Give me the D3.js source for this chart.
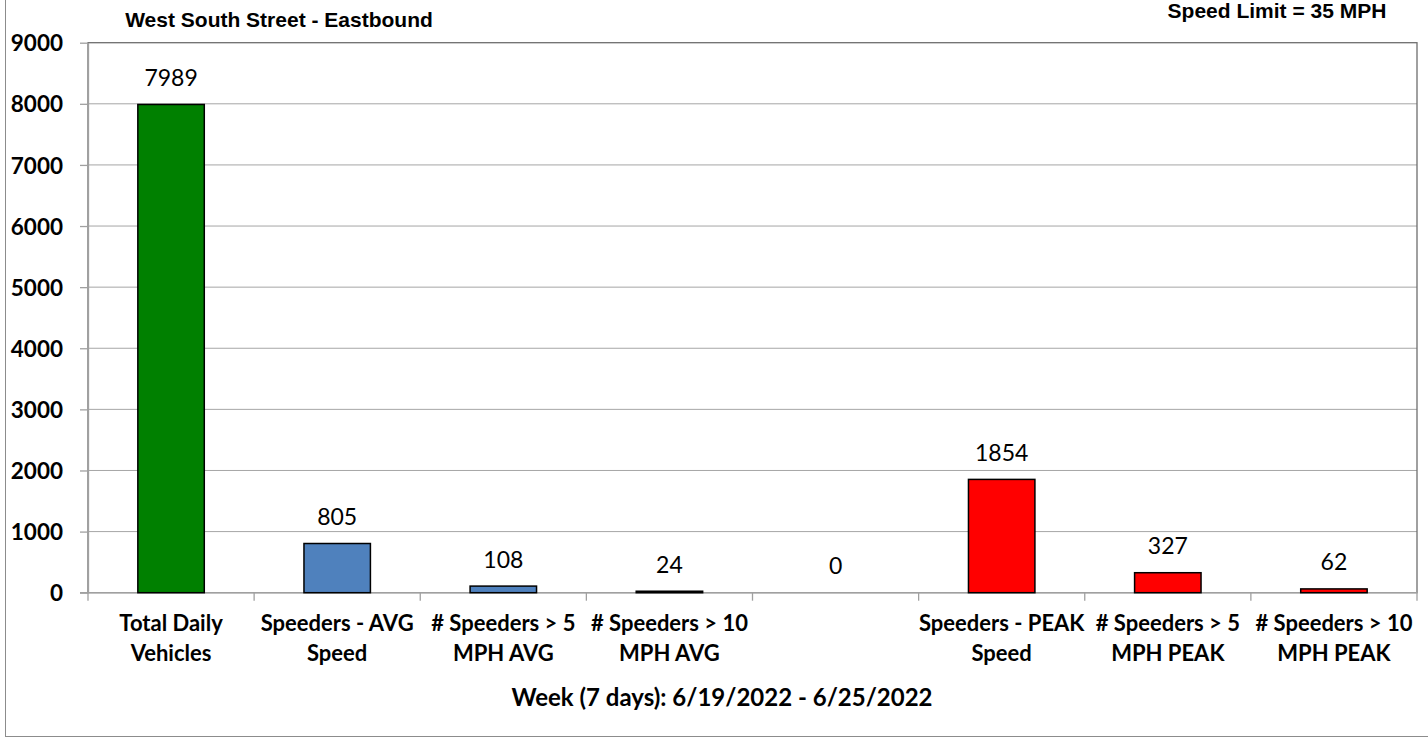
<!DOCTYPE html>
<html>
<head>
    <title>West South Street - Eastbound</title>
    <style>
        body {
            margin: 0;
            background: #fff;
        }

        .grid line {
            stroke: #a6a6a6;
            stroke-width: 1px;
        }

        .bar {
            stroke: #000;
            stroke-width: 1.5px;
        }

        .tick-label {
            font-family: Lato, "Open Sans", sans-serif;
            font-weight: bold;
            font-size: 22px;
            fill: #000;
        }

        .value-label {
            font-family: Lato, "Open Sans", sans-serif;
            font-size: 23px;
            fill: #000;
        }

        .arial-title {
            font-family: "Liberation Sans", Arial, sans-serif;
            font-weight: bold;
            font-size: 21px;
            fill: #000;
        }
    </style>
</head>
<body>
<div id="chart"></div>

<script src="https://d3js.org/d3.v7.min.js"></script>
<script>
    // chart data
    const categories = [
        "Total Daily\nVehicles",
        "Speeders - AVG\nSpeed",
        "# Speeders > 5\nMPH AVG",
        "# Speeders > 10\nMPH AVG",
        "",
        "Speeders - PEAK\nSpeed",
        "# Speeders > 5\nMPH PEAK",
        "# Speeders > 10\nMPH PEAK"
    ];
    const counts = [7989, 805, 108, 24, 0, 1854, 327, 62];
    const barColors = ["#008000", "#4f81bd", "#4f81bd", "#4f81bd", "#4f81bd", "#ff0000", "#ff0000", "#ff0000"];
    const yTicks = [0, 1000, 2000, 3000, 4000, 5000, 6000, 7000, 8000, 9000];

    const chartTitle = "West South Street - Eastbound";
    const speedNote = "Speed Limit = 35 MPH";
    const xTitle = "Week (7 days): 6/19/2022 - 6/25/2022";

    const width = 1428;
    const height = 738;
    const plot = { left: 88, right: 1417, top: 42.7, bottom: 592.7 };

    const svg = d3.select('#chart').append('svg')
        .attr('width', width)
        .attr('height', height);

    // outer chart frame
    svg.append('rect')
        .attr('x', 5.5)
        .attr('y', -2)
        .attr('width', width)
        .attr('height', 738.5)
        .attr('fill', 'none')
        .attr('stroke', '#8c8c8c')
        .attr('stroke-width', 1);

    const x = d3.scaleBand()
        .domain(d3.range(categories.length))
        .range([plot.left, plot.right])
        .padding(0);

    const y = d3.scaleLinear()
        .domain([0, 9000])
        .range([plot.bottom, plot.top]);

    // horizontal gridlines
    svg.append('g')
        .attr('class', 'grid')
        .selectAll('line')
        .data(yTicks.filter(t => t > 0 && t < 9000))
        .enter().append('line')
        .attr('x1', plot.left)
        .attr('x2', plot.right)
        .attr('y1', d => y(d))
        .attr('y2', d => y(d));

    // plot area border (top & right darker)
    svg.append('rect')
        .attr('x', plot.left)
        .attr('y', plot.top)
        .attr('width', plot.right - plot.left)
        .attr('height', plot.bottom - plot.top)
        .attr('fill', 'none')
        .attr('stroke', '#6e6e6e')
        .attr('stroke-width', 1.3);

    // y axis
    const yAxis = svg.append('g')
        .attr('transform', `translate(${plot.left},0)`)
        .call(d3.axisLeft(y).tickValues(yTicks).tickFormat(d3.format('d'))
            .tickSize(8).tickSizeOuter(0).tickPadding(17));
    yAxis.select('.domain').attr('stroke', '#a0a0a0').attr('stroke-width', 1.3);
    yAxis.selectAll('.tick line').attr('stroke', '#a0a0a0').attr('stroke-width', 1.3);
    yAxis.selectAll('.tick text')
        .attr('class', 'tick-label')
        .attr('dy', '0.36em')
        .style('font-family', 'Lato, "Open Sans", sans-serif')
        .style('font-size', '22.5px')
        .style('font-weight', 'bold');

    // x axis baseline and category separators
    const xAxisG = svg.append('g');
    xAxisG.append('line')
        .attr('x1', plot.left - 8)
        .attr('x2', plot.right)
        .attr('y1', y(0))
        .attr('y2', y(0))
        .attr('stroke', '#a0a0a0')
        .attr('stroke-width', 1.3);
    xAxisG.selectAll('.sep')
        .data(d3.range(categories.length + 1))
        .enter().append('line')
        .attr('x1', d => plot.left + d * x.bandwidth())
        .attr('x2', d => plot.left + d * x.bandwidth())
        .attr('y1', y(0))
        .attr('y2', y(0) + 8)
        .attr('stroke', '#a0a0a0')
        .attr('stroke-width', 1.3);

    // bars
    const barW = x.bandwidth() * 0.4;
    svg.append('g')
        .selectAll('rect')
        .data(counts)
        .enter().append('rect')
        .attr('class', 'bar')
        .attr('x', (d, i) => x(i) + (x.bandwidth() - barW) / 2)
        .attr('y', d => y(d))
        .attr('width', barW)
        .attr('height', d => y(0) - y(d))
        .attr('fill', (d, i) => barColors[i])
        .style('display', d => d === 0 ? 'none' : null);

    // value labels
    svg.append('g')
        .selectAll('text')
        .data(counts)
        .enter().append('text')
        .attr('class', 'value-label')
        .attr('x', (d, i) => x(i) + x.bandwidth() / 2)
        .attr('y', d => y(d) - 18.5)
        .attr('text-anchor', 'middle')
        .text(d => d);

    // category labels (two lines)
    const catG = svg.append('g')
        .selectAll('text')
        .data(categories)
        .enter().append('text')
        .attr('class', 'tick-label')
        .attr('text-anchor', 'middle')
        .attr('x', (d, i) => x(i) + x.bandwidth() / 2)
        .attr('y', 631);
    catG.selectAll('tspan')
        .data(d => d.split('\n'))
        .enter().append('tspan')
        .attr('x', function() { return d3.select(this.parentNode).attr('x'); })
        .attr('dy', (d, i) => i === 0 ? 0 : 30)
        .text(d => d);

    // axis title
    svg.append('text')
        .attr('class', 'tick-label')
        .attr('x', 722)
        .attr('y', 706)
        .attr('text-anchor', 'middle')
        .style('font-size', '24px')
        .text(xTitle);

    // titles
    svg.append('text')
        .attr('class', 'arial-title')
        .attr('x', 279)
        .attr('y', 27)
        .attr('text-anchor', 'middle')
        .text(chartTitle);

    svg.append('text')
        .attr('class', 'arial-title')
        .attr('x', 1277)
        .attr('y', 18)
        .attr('text-anchor', 'middle')
        .text(speedNote);
</script>
</body>
</html>
